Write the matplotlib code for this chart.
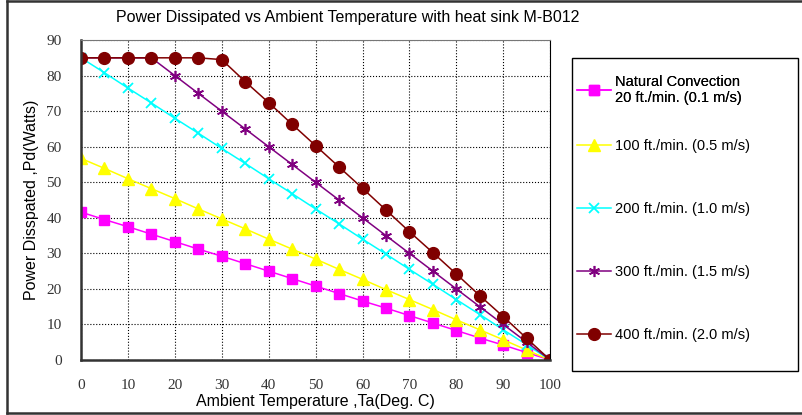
import matplotlib.pyplot as plt
from matplotlib.lines import Line2D
from matplotlib.patches import Rectangle

# ambient temperature (deg C)
temps = [0, 5, 10, 15, 20, 25, 30, 35, 40, 45, 50, 55, 60, 65, 70, 75, 80, 85, 90, 95, 100]

# power dissipated (W) per airflow
natural = [41.6, 39.5, 37.5, 35.4, 33.3, 31.2, 29.2, 27.1, 25.0, 22.9, 20.8,
           18.7, 16.6, 14.6, 12.5, 10.4, 8.3, 6.2, 4.2, 2.1, 0]
ft100 = [56.7, 53.9, 51.0, 48.2, 45.4, 42.5, 39.7, 36.9, 34.0, 31.2, 28.4,
         25.5, 22.7, 19.8, 17.0, 14.2, 11.3, 8.5, 5.7, 2.8, 0]
ft200 = [85.0, 80.8, 76.5, 72.3, 68.0, 63.8, 59.5, 55.3, 51.0, 46.8, 42.5,
         38.3, 34.0, 29.8, 25.5, 21.3, 17.0, 12.8, 8.5, 4.3, 0]
ft300 = [85.0, 85.0, 85.0, 85.0, 80.0, 75.0, 70.0, 65.0, 60.0, 55.0, 50.0,
         45.0, 40.0, 35.0, 30.0, 25.0, 20.0, 15.0, 10.0, 5.0, 0]
ft400 = [85.0, 85.0, 85.0, 85.0, 85.0, 85.0, 84.5, 78.3, 72.4, 66.3, 60.3,
         54.3, 48.3, 42.2, 36.1, 30.2, 24.2, 18.1, 12.2, 6.1, 0]

labels = ["Natural Convection\n20 ft./min. (0.1 m/s)",
          "100 ft./min. (0.5 m/s)",
          "200 ft./min. (1.0 m/s)",
          "300 ft./min. (1.5 m/s)",
          "400 ft./min. (2.0 m/s)"]

sans = "Liberation Sans"
serif = "Liberation Serif"

fig = plt.figure(figsize=(8.02, 4.15), dpi=100)
ax = fig.add_axes([0.101, 0.1325, 0.585, 0.771])

h_nat, = ax.plot(temps, natural, color="#FF00FF", marker="s", ms=7, lw=1.1)
h_100, = ax.plot(temps, ft100, color="#FFFF00", marker="^", ms=8, lw=1.1)
h_200, = ax.plot(temps, ft200, color="#00FFFF", marker="x", ms=7, mew=1.3, lw=1.1)
h_300, = ax.plot(temps, ft300, color="#800080", marker=(6, 2, 0), ms=8, mew=1.2, lw=1.1)
h_400, = ax.plot(temps, ft400, color="#800000", marker="o", ms=8.5, lw=1.1)

ax.set_xlim(0, 100)
ax.set_ylim(0, 90)
ax.set_xticks(range(0, 101, 10))
ax.set_yticks(range(0, 91, 10))
ax.grid(True, color="black", linestyle=":", linewidth=0.8)
ax.tick_params(length=0, labelsize=11, pad=14)
for lab in ax.get_xticklabels() + ax.get_yticklabels():
    lab.set_fontfamily(serif)
    lab.set_color("#333333")

ax.spines["left"].set_linewidth(1.8)
ax.spines["bottom"].set_linewidth(1.8)
ax.spines["left"].set_color("#333333")
ax.spines["bottom"].set_color("#333333")
ax.spines["top"].set_color("#777777")
ax.spines["right"].set_color("black")

ax.set_xlabel("Ambient Temperature ,Ta(Deg. C)", fontfamily=sans, fontsize=11.5, labelpad=1)
ax.set_ylabel("Power Disspated ,Pd(Watts)", fontfamily=sans, fontsize=11.5, labelpad=5)
fig.text(0.433, 0.957, "Power Dissipated vs Ambient Temperature with heat sink M-B012",
         ha="center", va="center", fontfamily=sans, fontsize=11.5)

# legend box
fig.patches.append(Rectangle((0.713, 0.106), 0.282, 0.754, transform=fig.transFigure,
                             fill=False, edgecolor="black", linewidth=1.0))
leg_font = {"family": sans, "size": 10.5}
leg1 = fig.legend([h_nat], labels[:1], loc="center left", bbox_to_anchor=(0.7195, 0.784),
                  frameon=False, prop=leg_font, handlelength=2.3, handletextpad=0.3,
                  borderpad=0, borderaxespad=0)
fig.add_artist(leg1)
fig.legend([h_100, h_200, h_300, h_400], labels[1:], loc="center left",
           bbox_to_anchor=(0.7195, 0.42), frameon=False, prop=leg_font,
           handlelength=2.3, handletextpad=0.3, labelspacing=3.35,
           borderpad=0, borderaxespad=0)

# outer frame
frame_kw = dict(transform=fig.transFigure, color="#333333", lw=1.8)
fig.add_artist(Line2D([0.0087, 0.0087], [0.005, 0.998], **frame_kw))
fig.add_artist(Line2D([0.0087, 1.0], [0.998, 0.998], **frame_kw))
fig.add_artist(Line2D([0.0087, 1.0], [0.005, 0.005], **frame_kw))

fig.savefig("out.png", dpi=100)
